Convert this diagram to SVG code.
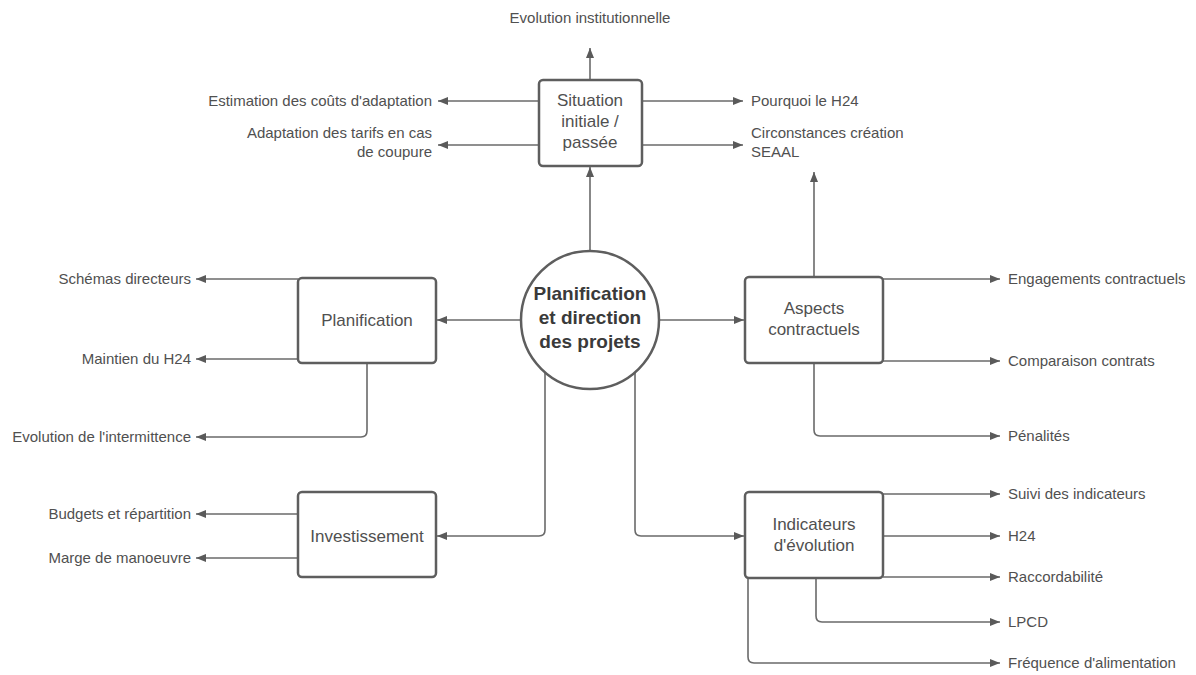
<svg xmlns="http://www.w3.org/2000/svg" width="1196" height="675" viewBox="0 0 1196 675">
<defs>
<marker id="ah" viewBox="0 0 10 8" refX="10" refY="4" markerWidth="10" markerHeight="8" markerUnits="userSpaceOnUse" orient="auto">
<path d="M0,0 L10,4 L0,8 z" fill="#5a5a5a"/>
</marker>
<style>
.box{fill:#fff;stroke:#5e5e5e;stroke-width:2.5}
.c{fill:none;stroke:#6a6a6a;stroke-width:1.6;marker-end:url(#ah)}
.lbl{font-family:"Liberation Sans",Arial,sans-serif;font-size:15px;fill:#505050}
.bt{font-family:"Liberation Sans",Arial,sans-serif;font-size:17px;fill:#505050;text-anchor:middle}
.ct{font-family:"Liberation Sans",Arial,sans-serif;font-size:19px;font-weight:bold;fill:#3a3a3a;text-anchor:middle}
.r{text-anchor:end}
</style>
</defs>
<rect width="1196" height="675" fill="#fff"/>
<g id="connectors">
<path class="c" d="M590,80 V48"/>
<path class="c" d="M539,101 H438"/>
<path class="c" d="M539,145 H438"/>
<path class="c" d="M642,101 H743"/>
<path class="c" d="M642,145 H743"/>
<path class="c" d="M590,251 V167"/>
<path class="c" d="M521,320 H437"/>
<path class="c" d="M298,279 H196"/>
<path class="c" d="M298,359 H196"/>
<path class="c" d="M367,363 V431 Q367,437 361,437 H196"/>
<path class="c" d="M659,320 H744"/>
<path class="c" d="M814,277 V172"/>
<path class="c" d="M883,279 H1000"/>
<path class="c" d="M883,361 H1000"/>
<path class="c" d="M814,363 V430 Q814,436 820,436 H1000"/>
<path class="c" d="M545,372 V530 Q545,536 539,536 H437"/>
<path class="c" d="M298,514 H196"/>
<path class="c" d="M298,558 H196"/>
<path class="c" d="M635,372 V530 Q635,536 641,536 H744"/>
<path class="c" d="M883,494 H1000"/>
<path class="c" d="M883,536 H1000"/>
<path class="c" d="M883,577 H1000"/>
<path class="c" d="M816,578 V616 Q816,622 822,622 H1000"/>
<path class="c" d="M748,578 V657 Q748,663 754,663 H1000"/>
</g>
<g id="center">
<circle cx="590" cy="320" r="69" fill="#fff" stroke="#5e5e5e" stroke-width="2.5"/>
<text class="ct" x="590" y="300">Planification</text>
<text class="ct" x="590" y="324">et direction</text>
<text class="ct" x="590" y="348">des projets</text>
</g>
<g id="situation">
<rect class="box" x="539" y="80" width="103" height="86" rx="4"/>
<text class="bt" x="590" y="106">Situation</text>
<text class="bt" x="590" y="127">initiale /</text>
<text class="bt" x="590" y="148">passée</text>
</g>
<g id="planification">
<rect class="box" x="298" y="278" width="138" height="85" rx="4"/>
<text class="bt" x="367" y="326">Planification</text>
</g>
<g id="aspects">
<rect class="box" x="745" y="277" width="138" height="86" rx="4"/>
<text class="bt" x="814" y="314">Aspects</text>
<text class="bt" x="814" y="335">contractuels</text>
</g>
<g id="investissement">
<rect class="box" x="298" y="492" width="138" height="85" rx="4"/>
<text class="bt" x="367" y="542">Investissement</text>
</g>
<g id="indicateurs">
<rect class="box" x="745" y="492" width="138" height="86" rx="4"/>
<text class="bt" x="814" y="530">Indicateurs</text>
<text class="bt" x="814" y="551">d'évolution</text>
</g>
<g id="labels">
<text class="lbl" x="590" y="23" text-anchor="middle">Evolution institutionnelle</text>
<text class="lbl r" x="432" y="106">Estimation des coûts d'adaptation</text>
<text class="lbl r" x="432" y="138">Adaptation des tarifs en cas</text>
<text class="lbl r" x="432" y="157">de coupure</text>
<text class="lbl" x="751" y="106">Pourquoi le H24</text>
<text class="lbl" x="751" y="138">Circonstances création</text>
<text class="lbl" x="751" y="157">SEAAL</text>
<text class="lbl r" x="191" y="284">Schémas directeurs</text>
<text class="lbl r" x="191" y="364">Maintien du H24</text>
<text class="lbl r" x="191" y="442">Evolution de l'intermittence</text>
<text class="lbl r" x="191" y="519">Budgets et répartition</text>
<text class="lbl r" x="191" y="563">Marge de manoeuvre</text>
<text class="lbl" x="1008" y="284">Engagements contractuels</text>
<text class="lbl" x="1008" y="366">Comparaison contrats</text>
<text class="lbl" x="1008" y="441">Pénalités</text>
<text class="lbl" x="1008" y="499">Suivi des indicateurs</text>
<text class="lbl" x="1008" y="541">H24</text>
<text class="lbl" x="1008" y="582">Raccordabilité</text>
<text class="lbl" x="1008" y="627">LPCD</text>
<text class="lbl" x="1008" y="668">Fréquence d'alimentation</text>
</g>
</svg>
